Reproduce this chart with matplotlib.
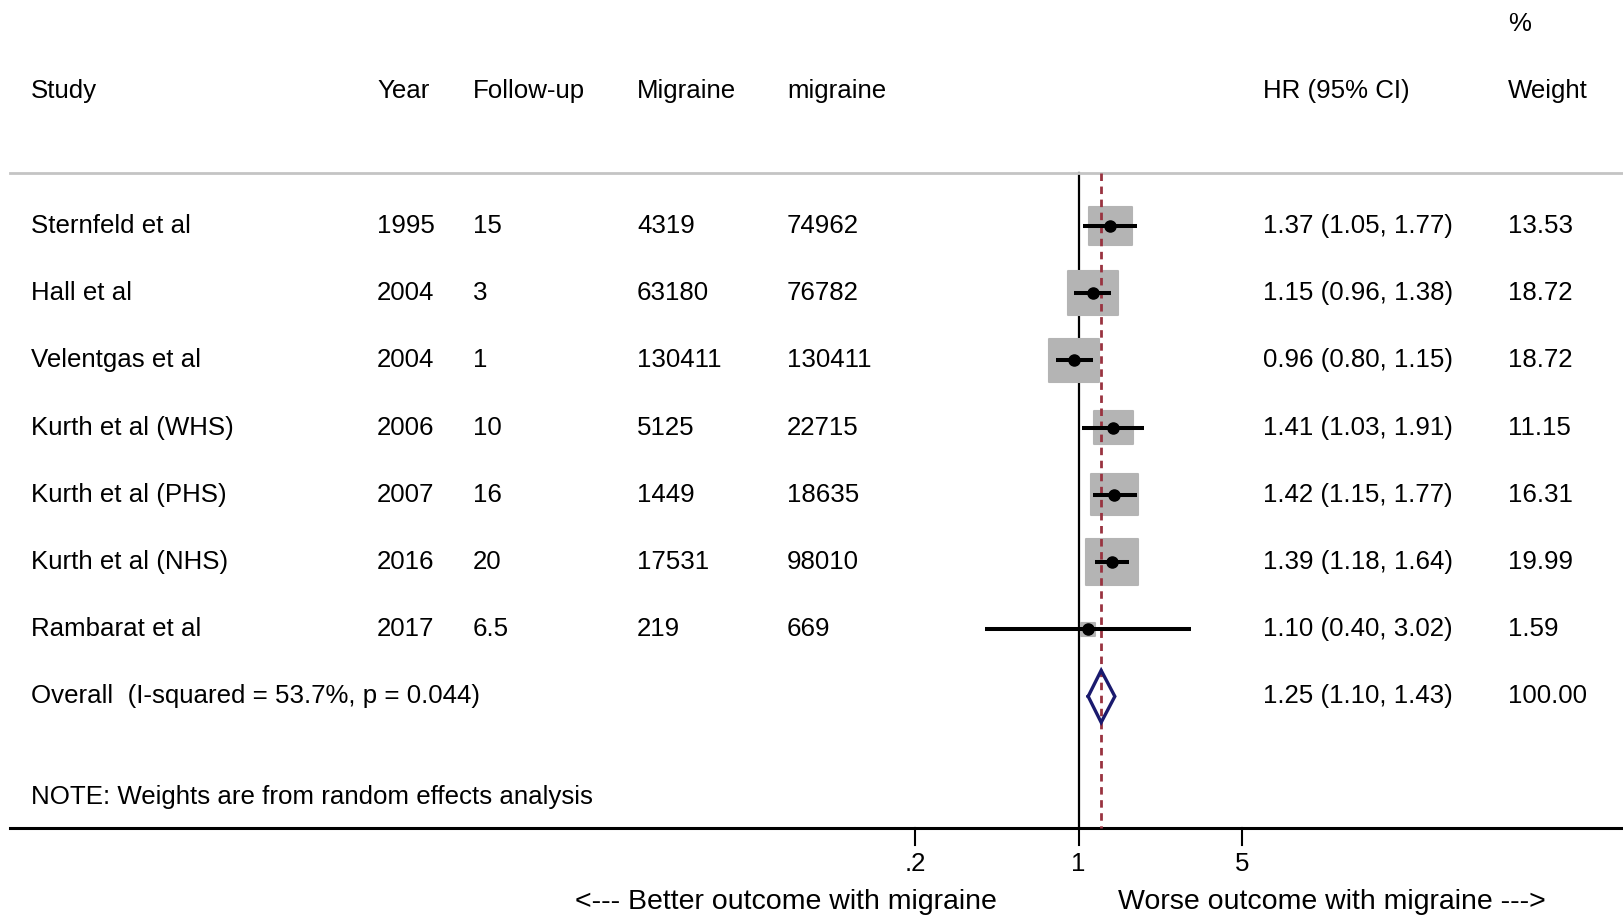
import numpy as np
import matplotlib.pyplot as plt
import matplotlib.transforms as mtransforms
from matplotlib.path import Path

plt.rcParams['font.family'] = ['Liberation Sans', 'DejaVu Sans']

# data
studies = ["Sternfeld et al", "Hall et al", "Velentgas et al", "Kurth et al (WHS)",
           "Kurth et al (PHS)", "Kurth et al (NHS)", "Rambarat et al"]
years = ["1995", "2004", "2004", "2006", "2007", "2016", "2017"]
followup = ["15", "3", "1", "10", "16", "20", "6.5"]
n_migraine = ["4319", "63180", "130411", "5125", "1449", "17531", "219"]
n_nomigraine = ["74962", "76782", "130411", "22715", "18635", "98010", "669"]
hr = [1.37, 1.15, 0.96, 1.41, 1.42, 1.39, 1.10]
lo = [1.05, 0.96, 0.80, 1.03, 1.15, 1.18, 0.40]
hi = [1.77, 1.38, 1.15, 1.91, 1.77, 1.64, 3.02]
weight = [13.53, 18.72, 18.72, 11.15, 16.31, 19.99, 1.59]
overall = (1.25, 1.10, 1.43)
overall_label = "Overall  (I-squared = 53.7%, p = 0.044)"
ticks = [0.2, 1, 5]
tick_labels = [".2", "1", "5"]

W, H = 1623, 915
fig = plt.figure(figsize=(W / 100, H / 100), dpi=100)
ax = fig.add_axes([0, 0, 1, 1])
ax.set_xscale('log')
x0, k = 1078.5, 101.6   # pixel of HR=1, pixels per ln unit
ax.set_xlim(np.exp(-x0 / k), np.exp((W - x0) / k))
ax.set_ylim(H, 0)
ax.axis('off')
tr = mtransforms.blended_transform_factory(ax.transAxes, ax.transData)

fs = 18.6
row_y = [226 + 67.2 * i for i in range(len(studies))]
y_over = 226 + 67.2 * 7

# header
cols = [31, 377, 473, 637, 787, 1263, 1508]
heads = ["Study", "Year", "Follow-up", "Migraine", "migraine", "HR (95% CI)", "Weight"]
for cx, h in zip(cols, heads):
    ax.text(cx / W, 91, h, transform=tr, fontsize=fs, va='center')
ax.text(1508 / W, 24, "%", transform=tr, fontsize=fs, va='center')
ax.plot([10 / W, 1], [173, 173], transform=tr, color='#c4c4c4', lw=2, clip_on=False)

# table rows
for i, y in enumerate(row_y):
    vals = [studies[i], years[i], followup[i], n_migraine[i], n_nomigraine[i],
            f"{hr[i]:.2f} ({lo[i]:.2f}, {hi[i]:.2f})", f"{weight[i]:.2f}"]
    for cx, v in zip(cols, vals):
        ax.text(cx / W, y, v, transform=tr, fontsize=fs, va='center')
ax.text(31 / W, y_over, overall_label, transform=tr, fontsize=fs, va='center')
ax.text(1263 / W, y_over, f"{overall[0]:.2f} ({overall[1]:.2f}, {overall[2]:.2f})",
        transform=tr, fontsize=fs, va='center')
ax.text(1508 / W, y_over, "100.00", transform=tr, fontsize=fs, va='center')
ax.text(31 / W, 797, "NOTE: Weights are from random effects analysis",
        transform=tr, fontsize=fs, va='center')

# reference lines
ax.plot([1, 1], [173, 828], color='black', lw=1.6, zorder=1)
ax.plot([overall[0]] * 2, [173, 828], color='#993340', lw=2,
        linestyle=(0, (2.7, 2)), zorder=4)

# weight boxes (slightly wider than tall)
box = Path([(-0.5, -0.435), (0.5, -0.435), (0.5, 0.435), (-0.5, 0.435), (-0.5, -0.435)],
           [Path.MOVETO, Path.LINETO, Path.LINETO, Path.LINETO, Path.CLOSEPOLY])
ax.scatter(hr, row_y, s=[69.7 * w for w in weight], marker=box, color='#b4b4b4',
           edgecolors='#b4b4b4', linewidths=1.5, zorder=2)
ax.hlines(row_y, lo, hi, color='black', lw=2.9, zorder=5)
ax.plot(hr, row_y, 'o', color='black', ms=8, zorder=6)

# overall diamond
dy = 26
ax.plot([overall[1], overall[0], overall[2], overall[0], overall[1]],
        [y_over, y_over - dy, y_over, y_over + dy, y_over],
        color='#1a1a6e', lw=2.4, zorder=5, solid_joinstyle='miter')

# bottom axis
ax.plot([10 / W, 1], [828, 828], transform=tr, color='black', lw=2.2, clip_on=False)
for t, lab in zip(ticks, tick_labels):
    ax.plot([t, t], [828, 845], color='black', lw=1.5)
    ax.text(t, 864, lab, fontsize=fs, ha='center', va='center')
ax.text(997 / W, 902, "<--- Better outcome with migraine", transform=tr,
        fontsize=20.5, ha='right', va='center')
ax.text(1118 / W, 902, "Worse outcome with migraine --->", transform=tr,
        fontsize=20.5, ha='left', va='center')

fig.savefig("out.png", dpi=100)
